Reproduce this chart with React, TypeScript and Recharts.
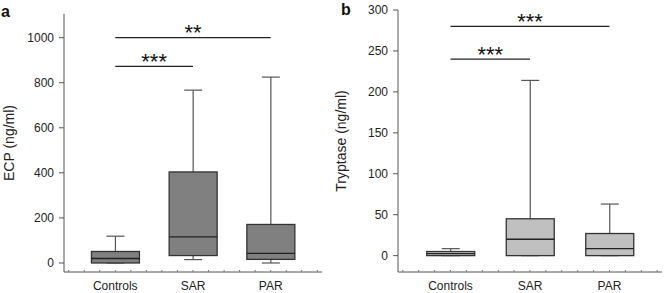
import React from "react"
import { Bar, ComposedChart, Label, ReferenceDot, ReferenceLine, XAxis, YAxis } from "recharts"

const categories = ["Controls", "SAR", "PAR"]
const positions = [1, 2, 3]
const minorTicks = [0.4, 0.6, 0.8, 1, 1.2, 1.4, 1.6, 1.8, 2, 2.2, 2.4, 2.6, 2.8, 3, 3.2, 3.4, 3.6]

// ECP (ng/ml)
const ecpMin = [0, 15, 0]
const ecpQ1 = [0, 33, 16]
const ecpMedian = [20, 116, 43]
const ecpQ3 = [51, 404, 171]
const ecpMax = [119, 767, 825]
const ecpTicks = [0, 200, 400, 600, 800, 1000]

// Tryptase (ng/ml)
const tryMin = [0, 0, 0]
const tryQ1 = [0, 0, 0]
const tryMedian = [2.5, 20, 8.5]
const tryQ3 = [5, 45, 27]
const tryMax = [8.5, 214, 63]
const tryTicks = [0, 50, 100, 150, 200, 250, 300]

// significance brackets: [from, to, level, stars]
const ecpSig: [number, number, number, string][] = [
  [1, 2, 873, "***"],
  [1, 3, 1000, "**"],
]
const trySig: [number, number, number, string][] = [
  [1, 2, 240, "***"],
  [1, 3, 280, "***"],
]

const FONT = "'Liberation Sans', Arial, sans-serif"

function buildRows(min: number[], q1: number[], med: number[], q3: number[], max: number[]) {
  return positions.map((p, i) => ({
    pos: p,
    name: categories[i],
    min: min[i],
    q1: q1[i],
    median: med[i],
    q3: q3[i],
    max: max[i],
  }))
}

function BoxShape(props: any) {
  const { x, y, width, height, payload, fill } = props
  const { min, q1, median, q3, max } = payload
  const span = max - min || 1
  const py = (v: number) => y + (height * (max - v)) / span
  const cx = x + width / 2
  const cap = 9
  return (
    <g>
      <line x1={cx} x2={cx} y1={py(max)} y2={py(min)} stroke="#555" strokeWidth={1.2} />
      <line x1={cx - cap} x2={cx + cap} y1={py(max)} y2={py(max)} stroke="#555" strokeWidth={1.2} />
      <line x1={cx - cap} x2={cx + cap} y1={py(min)} y2={py(min)} stroke="#555" strokeWidth={1.2} />
      <rect x={x} y={py(q3)} width={width} height={py(q1) - py(q3)} fill={fill} stroke="#333" strokeWidth={1.3} />
      <line x1={x} x2={x + width} y1={py(median)} y2={py(median)} stroke="#222" strokeWidth={1.3} />
    </g>
  )
}

function CategoryTick(props: any) {
  const { x, y, payload } = props
  const v = payload.value
  const r = Math.round(v)
  const isCat = Math.abs(v - r) < 1e-6
  return (
    <g>
      <line x1={x} x2={x} y1={y} y2={y - 2} stroke="#777" />
      {isCat && (
        <text x={x} y={y + 9} dy="0.71em" textAnchor="middle" fontSize={12} fill="#222" fontFamily={FONT}>
          {categories[r - 1]}
        </text>
      )}
    </g>
  )
}

function Stars(props: any) {
  const { viewBox, value } = props
  return (
    <text x={viewBox.x} y={viewBox.y + 2.5} textAnchor="middle" fontSize={22} fill="#111" fontFamily={FONT}>
      {value}
    </text>
  )
}

function Panel({
  rows, domain, ticks, title, fill, sig, top, yWidth, right,
}: {
  rows: any[]; domain: [number, number]; ticks: number[]; title: string; fill: string
  sig: [number, number, number, string][]; top: number; yWidth: number; right: number
}) {
  return (
    <ComposedChart width={332} height={293} data={rows} margin={{ top, right, bottom: 0, left: 0 }}>
      <XAxis
        dataKey="pos"
        type="number"
        domain={[0.34, 3.66]}
        ticks={minorTicks}
        interval={0}
        tickSize={0}
        tickMargin={0}
        height={21}
        stroke="#555"
        tick={<CategoryTick />}
      />
      <YAxis
        type="number"
        domain={domain}
        ticks={ticks}
        interval={0}
        width={yWidth}
        tickSize={5}
        tickMargin={5}
        stroke="#555"
        tick={{ fontSize: 12, fill: "#222", fontFamily: FONT }}
      >
        <Label
          content={({ viewBox }: any) => (
            <text
              x={9}
              y={viewBox.y + viewBox.height / 2}
              transform={`rotate(-90 9 ${viewBox.y + viewBox.height / 2})`}
              textAnchor="middle"
              dominantBaseline="central"
              fontSize={14}
              fill="#222"
              fontFamily={FONT}
            >
              {title}
            </text>
          )}
        />
      </YAxis>
      <Bar
        dataKey={(d: any) => [d.min, d.max]}
        barSize={48}
        fill={fill}
        shape={<BoxShape />}
        isAnimationActive={false}
      />
      {sig.map(([a, b, level]) => (
        <ReferenceLine
          key={`l-${a}-${b}`}
          segment={[{ x: a, y: level }, { x: b, y: level }]}
          stroke="#222"
          strokeWidth={1.2}
        />
      ))}
      {sig.map(([a, b, level, stars]) => (
        <ReferenceDot
          key={`s-${a}-${b}`}
          x={(a + b) / 2}
          y={level}
          r={0}
          fill="none"
          stroke="none"
          label={<Stars value={stars} />}
        />
      ))}
    </ComposedChart>
  )
}

export default function App() {
  const ecpRows = buildRows(ecpMin, ecpQ1, ecpMedian, ecpQ3, ecpMax)
  const tryRows = buildRows(tryMin, tryQ1, tryMedian, tryQ3, tryMax)
  const letter = { position: "absolute" as const, fontFamily: FONT, fontWeight: 700, fontSize: 16, color: "#111", lineHeight: "18px" }
  return (
    <div style={{ position: "absolute", left: 0, top: 0, width: 664, height: 293, background: "#fff" }}>
      <div style={{ position: "absolute", left: 0, top: 0 }}>
        <Panel rows={ecpRows} domain={[-40, 1105]} ticks={ecpTicks} title="ECP (ng/ml)" fill="#808080" sig={ecpSig} top={14} yWidth={64} right={10} />
      </div>
      <div style={{ position: "absolute", left: 332, top: 0 }}>
        <Panel rows={tryRows} domain={[-20, 300]} ticks={tryTicks} title="Tryptase (ng/ml)" fill="#c0c0c0" sig={trySig} top={10} yWidth={66} right={2} />
      </div>
      <div style={{ ...letter, left: 1, top: 3 }}>a</div>
      <div style={{ ...letter, left: 341, top: 1 }}>b</div>
    </div>
  )
}
